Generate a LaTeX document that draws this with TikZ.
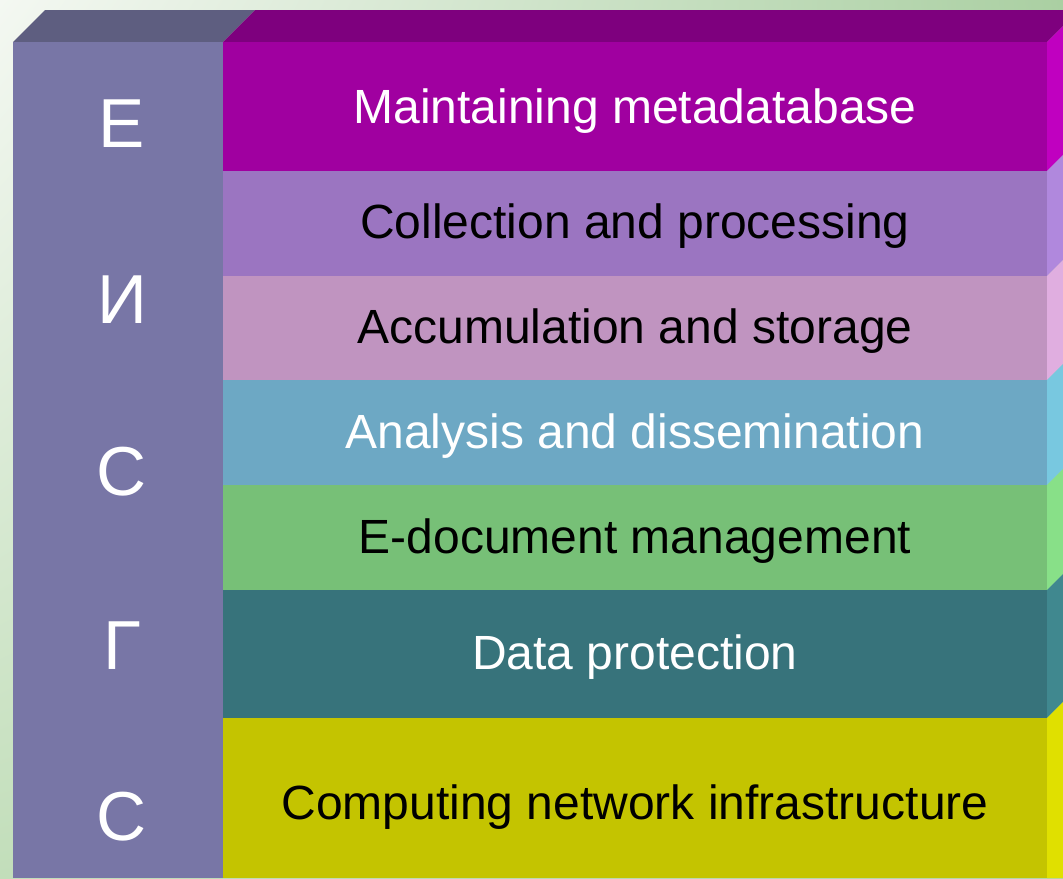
\documentclass[tikz,border=0pt]{standalone}
\usepackage{fontspec}
\setmainfont{Liberation Sans}
\usetikzlibrary{shadings}
\definecolor{bgul}{HTML}{F4F8F2}
\definecolor{bgur}{HTML}{AACFA2}
\definecolor{bgll}{HTML}{C2DEBA}
\definecolor{bglr}{HTML}{B4D6AC}
\definecolor{colfront}{HTML}{7876A6}
\definecolor{coltop}{HTML}{5E5E80}
\definecolor{magfront}{HTML}{A000A0}
\definecolor{magtop}{HTML}{7E007E}
\definecolor{magside}{HTML}{C000C0}
\definecolor{purfront}{HTML}{9B75C1}
\definecolor{purside}{HTML}{B088DD}
\definecolor{pinkfront}{HTML}{C094C0}
\definecolor{pinkside}{HTML}{E0AEE0}
\definecolor{bluefront}{HTML}{6DA8C4}
\definecolor{blueside}{HTML}{78C8E0}
\definecolor{greenfront}{HTML}{77C077}
\definecolor{greenside}{HTML}{88E088}
\definecolor{tealfront}{HTML}{37737B}
\definecolor{tealside}{HTML}{40888F}
\definecolor{yelfront}{HTML}{C4C400}
\definecolor{yelside}{HTML}{E0E000}
\begin{document}
\begin{tikzpicture}[x=0.75pt,y=-0.75pt,
  layertext/.style={font=\fontsize{36}{40}\selectfont},
  letter/.style={text=white,font=\fontsize{52}{56}\selectfont}]
\useasboundingbox (0,0) rectangle (1063,878);
\clip (0,0) rectangle (1063,878);
\shade[upper left=bgul, upper right=bgur, lower left=bgll, lower right=bglr] (0,0) rectangle (1063,878);
% left column
\fill[coltop] (13,42) -- (45,10) -- (255,10) -- (223,42) -- cycle;
\fill[colfront] (13,42) rectangle (223,878);
% top face of the stack
\fill[magtop] (223,42) -- (255,10) -- (1079,10) -- (1047,42) -- cycle;
% layers, front and right side
\fill[magfront] (223,42) rectangle (1047,171);
\fill[magside] (1047,42) -- (1079,10) -- (1079,139) -- (1047,171) -- cycle;
\fill[purfront] (223,171) rectangle (1047,276);
\fill[purside] (1047,171) -- (1079,139) -- (1079,244) -- (1047,276) -- cycle;
\fill[pinkfront] (223,276) rectangle (1047,380);
\fill[pinkside] (1047,276) -- (1079,244) -- (1079,348) -- (1047,380) -- cycle;
\fill[bluefront] (223,380) rectangle (1047,485);
\fill[blueside] (1047,380) -- (1079,348) -- (1079,453) -- (1047,485) -- cycle;
\fill[greenfront] (223,485) rectangle (1047,590);
\fill[greenside] (1047,485) -- (1079,453) -- (1079,558) -- (1047,590) -- cycle;
\fill[tealfront] (223,590) rectangle (1047,718);
\fill[tealside] (1047,590) -- (1079,558) -- (1079,686) -- (1047,718) -- cycle;
\fill[yelfront] (223,718) rectangle (1047,878);
\fill[yelside] (1047,718) -- (1079,686) -- (1079,878) -- (1047,878) -- cycle;
% labels
\node[layertext, text=white] (meta) at (635,111) {Maintaining metadatabase};
\node[layertext] (coll) at (635,226) {Collection and processing};
\node[layertext] (accu) at (635,331) {Accumulation and storage};
\node[layertext, text=white] (anal) at (635,436) {Analysis and dissemination};
\node[layertext] (edoc) at (635,541) {E-document management};
\node[layertext, text=white] (prot) at (635,657) {Data protection};
\node[layertext] (infr) at (635,807) {Computing network infrastructure};
\node[letter] (l1) at (122,124) {Е};
\node[letter] (l2) at (122,300) {И};
\node[letter] (l3) at (122,472) {С};
\node[letter] (l4) at (122,646) {Г};
\node[letter] (l5) at (122,817) {С};
\end{tikzpicture}
\end{document}
